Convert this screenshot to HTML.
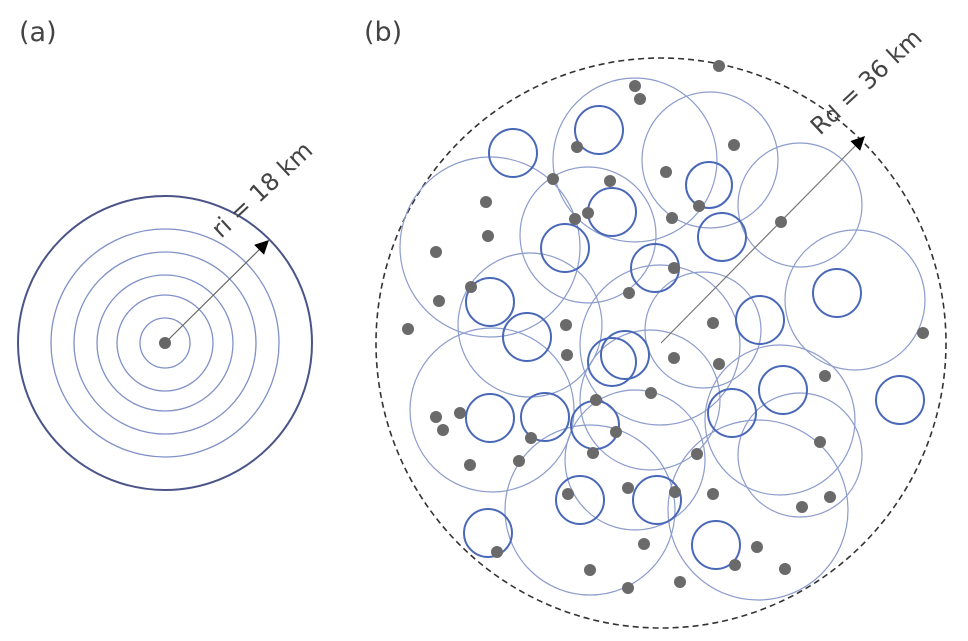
<!DOCTYPE html>
<html><head><meta charset="utf-8"><style>
html,body{margin:0;padding:0;background:#fff;}
svg{display:block;}
text{font-family:"DejaVu Sans","Liberation Sans",sans-serif;fill:#444;}
</style></head><body>
<svg width="968" height="641" viewBox="0 0 968 641" xmlns="http://www.w3.org/2000/svg">
<defs>
<marker id="ah2" viewBox="0 0 10 10" refX="9" refY="5" markerWidth="14" markerHeight="14" orient="auto" markerUnits="userSpaceOnUse"><path d="M0,0 L10,5 L0,10 z" fill="#000"/></marker></defs>
<text x="19" y="41" font-size="27">(a)</text>
<text x="364" y="41" font-size="27">(b)</text>
<!-- panel a -->
<g fill="none" stroke="#8091c8" stroke-width="1.3">
<circle cx="165" cy="343" r="25"/><circle cx="165" cy="343" r="48"/><circle cx="165" cy="343" r="68"/><circle cx="165" cy="343" r="91"/><circle cx="165" cy="343" r="114"/>
</g>
<circle cx="165" cy="343" r="147" fill="none" stroke="#4a5488" stroke-width="2"/>
<line x1="165" y1="343" x2="268" y2="241" stroke="#666" stroke-width="1.2" marker-end="url(#ah2)"/>
<circle cx="165" cy="343" r="6" fill="#666"/>
<text x="0" y="0" font-size="24" transform="translate(221,239) rotate(-43)">ri = 18 km</text>
<!-- panel b -->
<circle cx="661" cy="343" r="285" fill="none" stroke="#333" stroke-width="1.6" stroke-dasharray="6,4"/>
<g fill="none" stroke="#8c9ccc" stroke-width="1.2">
<circle cx="490" cy="247" r="90"/><circle cx="635" cy="160" r="82"/><circle cx="710" cy="160" r="68"/><circle cx="800" cy="205" r="62"/><circle cx="855" cy="300" r="70"/><circle cx="588" cy="235" r="68"/><circle cx="530" cy="325" r="72"/><circle cx="492" cy="410" r="82"/><circle cx="660" cy="345" r="80"/><circle cx="703" cy="330" r="58"/><circle cx="780" cy="420" r="75"/><circle cx="800" cy="455" r="62"/><circle cx="635" cy="460" r="70"/><circle cx="590" cy="510" r="85"/><circle cx="758" cy="510" r="90"/><circle cx="650" cy="400" r="70"/>
</g>
<g fill="none" stroke="#4a68b8" stroke-width="2">
<circle cx="513" cy="153" r="24"/><circle cx="599" cy="130" r="24"/><circle cx="709" cy="185" r="23"/><circle cx="612" cy="212" r="24"/><circle cx="565" cy="248" r="24"/><circle cx="722" cy="237" r="24"/><circle cx="655" cy="268" r="24"/><circle cx="490" cy="302" r="24"/><circle cx="527" cy="337" r="24"/><circle cx="760" cy="320" r="24"/><circle cx="837" cy="293" r="24"/><circle cx="612" cy="362" r="24"/><circle cx="625" cy="355" r="24"/><circle cx="490" cy="418" r="24"/><circle cx="545" cy="417" r="24"/><circle cx="595" cy="425" r="24"/><circle cx="732" cy="413" r="24"/><circle cx="783" cy="390" r="24"/><circle cx="900" cy="400" r="24"/><circle cx="580" cy="500" r="24"/><circle cx="657" cy="500" r="24"/><circle cx="488" cy="533" r="24"/><circle cx="716" cy="545" r="24"/>
</g>
<line x1="661" y1="343" x2="864" y2="137" stroke="#777" stroke-width="1.2" marker-end="url(#ah2)"/>
<g fill="#6a6a6a">
<circle cx="719" cy="66" r="6"/><circle cx="635" cy="86" r="6"/><circle cx="640" cy="99" r="6"/><circle cx="577" cy="147" r="6"/><circle cx="734" cy="145" r="6"/><circle cx="553" cy="179" r="6"/><circle cx="610" cy="181" r="6"/><circle cx="666" cy="172" r="6"/><circle cx="486" cy="202" r="6"/><circle cx="575" cy="219" r="6"/><circle cx="588" cy="213" r="6"/><circle cx="699" cy="206" r="6"/><circle cx="672" cy="218" r="6"/><circle cx="781" cy="222" r="6"/><circle cx="488" cy="236" r="6"/><circle cx="436" cy="252" r="6"/><circle cx="471" cy="287" r="6"/><circle cx="629" cy="293" r="6"/><circle cx="674" cy="268" r="6"/><circle cx="439" cy="301" r="6"/><circle cx="408" cy="329" r="6"/><circle cx="566" cy="325" r="6"/><circle cx="713" cy="323" r="6"/><circle cx="923" cy="333" r="6"/><circle cx="567" cy="355" r="6"/><circle cx="674" cy="358" r="6"/><circle cx="719" cy="364" r="6"/><circle cx="825" cy="376" r="6"/><circle cx="596" cy="400" r="6"/><circle cx="651" cy="393" r="6"/><circle cx="436" cy="417" r="6"/><circle cx="443" cy="430" r="6"/><circle cx="460" cy="413" r="6"/><circle cx="531" cy="438" r="6"/><circle cx="616" cy="432" r="6"/><circle cx="820" cy="442" r="6"/><circle cx="470" cy="465" r="6"/><circle cx="519" cy="461" r="6"/><circle cx="593" cy="453" r="6"/><circle cx="697" cy="454" r="6"/><circle cx="628" cy="488" r="6"/><circle cx="675" cy="492" r="6"/><circle cx="713" cy="494" r="6"/><circle cx="568" cy="494" r="6"/><circle cx="830" cy="497" r="6"/><circle cx="802" cy="507" r="6"/><circle cx="644" cy="544" r="6"/><circle cx="757" cy="547" r="6"/><circle cx="735" cy="565" r="6"/><circle cx="497" cy="552" r="6"/><circle cx="590" cy="570" r="6"/><circle cx="628" cy="588" r="6"/><circle cx="680" cy="582" r="6"/><circle cx="785" cy="569" r="6"/>
</g>
<text x="0" y="0" font-size="24" transform="translate(820,136) rotate(-43)">R<tspan font-size="22">d</tspan> = 36 km</text>
</svg>
</body></html>
